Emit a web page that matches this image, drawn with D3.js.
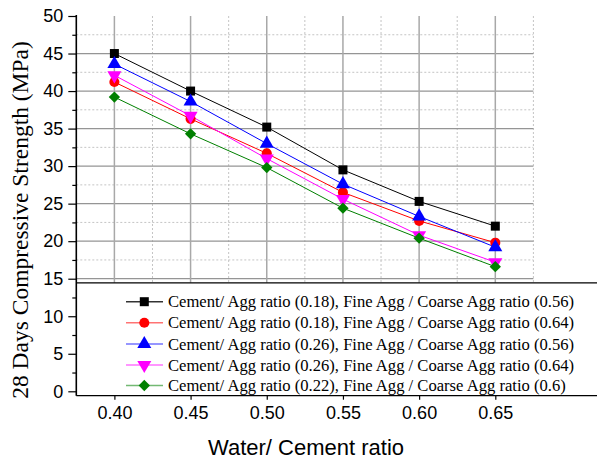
<!DOCTYPE html>
<html><head><meta charset="utf-8">
<script src="https://cdn.jsdelivr.net/npm/d3@7"></script>
<style>body{margin:0;background:#fff}</style>
</head><body>
<svg id="c" width="597" height="462"></svg>
<script>
const wcRatio = [0.40, 0.45, 0.50, 0.55, 0.60, 0.65];
const s1 = [45.0, 40.0, 35.2, 29.5, 25.3, 22.0];
const s2 = [41.2, 36.3, 31.7, 26.5, 22.7, 19.8];
const s3 = [43.6, 38.6, 33.0, 27.6, 23.3, 19.2];
const s4 = [42.1, 36.7, 31.0, 25.6, 20.8, 17.2];
const s5 = [39.2, 34.3, 29.8, 24.4, 20.4, 16.6];
const seriesNames = [
  "Cement/ Agg ratio (0.18), Fine Agg / Coarse Agg ratio (0.56)",
  "Cement/ Agg ratio (0.18), Fine Agg / Coarse Agg ratio (0.64)",
  "Cement/ Agg ratio (0.26), Fine Agg / Coarse Agg ratio (0.56)",
  "Cement/ Agg ratio (0.26), Fine Agg / Coarse Agg ratio (0.64)",
  "Cement/ Agg ratio (0.22), Fine Agg / Coarse Agg ratio (0.6)"
];
const yTicks = [0, 5, 10, 15, 20, 25, 30, 35, 40, 45, 50];
const xTicks = [0.40, 0.45, 0.50, 0.55, 0.60, 0.65];

const colors = ["#000000", "#ff0000", "#0000ff", "#ff00ff", "#008000"];
const shapes = ["square", "circle", "triUp", "triDown", "diamond"];
const allSeries = [s1, s2, s3, s4, s5];

const svg = d3.select("#c");
const x = d3.scaleLinear().domain([0.375, 0.675]).range([76.3, 533.4]);
const y = d3.scaleLinear().domain([0, 50]).range([391.3, 16]);
const panelBottomVal = 14.45;
const axisBottomY = 395.7;

// grid (upper panel)
const g = svg.append("g");
const majorY = yTicks.filter(v => v >= 15 && v < 50);
const minorY = d3.range(17.5, 50, 5);
g.selectAll(".mny").data(minorY).enter().append("line")
  .attr("x1", x(0.375)).attr("x2", x(0.675))
  .attr("y1", d => y(d)).attr("y2", d => y(d))
  .attr("stroke", "#c4c4c4").attr("stroke-width", 1).attr("stroke-dasharray", "2,2");
const minorX = d3.range(0.425, 0.676, 0.05);
g.selectAll(".mnx").data(minorX).enter().append("line")
  .attr("x1", d => x(d)).attr("x2", d => x(d))
  .attr("y1", y(50)).attr("y2", y(panelBottomVal))
  .attr("stroke", "#c4c4c4").attr("stroke-width", 1).attr("stroke-dasharray", "2,2");
g.selectAll(".mjy").data(majorY).enter().append("line")
  .attr("x1", x(0.375)).attr("x2", x(0.675))
  .attr("y1", d => y(d)).attr("y2", d => y(d))
  .attr("stroke", "#959595").attr("stroke-width", 1.3);
g.selectAll(".mjx").data(xTicks).enter().append("line")
  .attr("x1", d => x(d)).attr("x2", d => x(d))
  .attr("y1", y(50)).attr("y2", y(panelBottomVal))
  .attr("stroke", "#a8a8a8").attr("stroke-width", 1.5);

function sym(shape, size) {
  if (shape === "square") return d3.symbol(d3.symbolSquare, size || 81)();
  if (shape === "circle") return d3.symbol(d3.symbolCircle, size || 80)();
  if (shape === "triUp" || shape === "triDown") return d3.symbol(d3.symbolTriangle, size || 85)();
  if (shape === "diamond") return d3.symbol(d3.symbolSquare, size || 64)();
}
function rot(shape) {
  if (shape === "triDown") return " rotate(180)";
  if (shape === "diamond") return " rotate(45)";
  return "";
}

// series
const line = d3.line().x(d => x(d[0])).y(d => y(d[1]));
allSeries.forEach((vals, i) => {
  const pts = wcRatio.map((w, j) => [w, vals[j]]);
  svg.append("path").attr("d", line(pts)).attr("fill", "none")
    .attr("stroke", colors[i]).attr("stroke-width", 1);
});
allSeries.forEach((vals, i) => {
  const pts = wcRatio.map((w, j) => [w, vals[j]]);
  svg.selectAll(".m" + i).data(pts).enter().append("path")
    .attr("d", sym(shapes[i]))
    .attr("transform", d => `translate(${x(d[0])},${y(d[1])})` + rot(shapes[i]))
    .attr("fill", colors[i]);
});

// legend panel
svg.append("rect").attr("x", x(0.375)).attr("y", y(panelBottomVal))
  .attr("width", 597 - x(0.375)).attr("height", axisBottomY - y(panelBottomVal))
  .attr("fill", "#fff");
svg.append("line").attr("x1", x(0.375)).attr("x2", 597)
  .attr("y1", y(panelBottomVal)).attr("y2", y(panelBottomVal))
  .attr("stroke", "#000").attr("stroke-width", 1.3);

const legRows = [301.7, 322.7, 344, 365, 385.5];
seriesNames.forEach((name, i) => {
  const ly = legRows[i];
  svg.append("line").attr("x1", 126).attr("x2", 163).attr("y1", ly).attr("y2", ly)
    .attr("stroke", colors[i]).attr("stroke-opacity", i === 0 ? 0.8 : 0.55).attr("stroke-width", 1.6);
  svg.append("path").attr("d", sym(shapes[i]))
    .attr("transform", `translate(144.3,${ly})` + rot(shapes[i]))
    .attr("fill", colors[i]);
  svg.append("text").attr("x", 168).attr("y", ly + 5.5)
    .attr("font-family", "'Liberation Serif','Times New Roman',serif")
    .attr("font-size", 16.6).attr("fill", "#000").text(name);
});

// y axis
const yAxis = d3.axisLeft(y).tickValues(yTicks).tickSize(8).tickPadding(5);
const ya = svg.append("g").attr("transform", `translate(${x(0.375)},0)`).call(yAxis);
ya.select(".domain").remove();
ya.selectAll("text").attr("font-family", "'Liberation Sans',Arial,sans-serif").attr("font-size", 18).attr("fill", "#000");
ya.selectAll("line").attr("stroke", "#000").attr("stroke-width", 1.2);
const yMinor = d3.axisLeft(y).tickValues(d3.range(2.5, 50, 5)).tickSize(4).tickFormat("");
const ym = svg.append("g").attr("transform", `translate(${x(0.375)},0)`).call(yMinor);
ym.select(".domain").remove();
ym.selectAll("line").attr("stroke", "#000").attr("stroke-width", 1.2);
svg.append("line").attr("x1", x(0.375)).attr("x2", x(0.375))
  .attr("y1", y(50) - 1).attr("y2", axisBottomY)
  .attr("stroke", "#000").attr("stroke-width", 1.6);

// x axis
const xAxis = d3.axisBottom(x).tickValues(xTicks).tickSize(4).tickPadding(7).tickFormat(d3.format(".2f"));
const xa = svg.append("g").attr("transform", `translate(0,${axisBottomY})`).call(xAxis);
xa.select(".domain").remove();
xa.selectAll("text").attr("font-family", "'Liberation Sans',Arial,sans-serif").attr("font-size", 18).attr("fill", "#000");
xa.selectAll("line").attr("stroke", "#000").attr("stroke-width", 1.2);
svg.append("line").attr("x1", x(0.375)).attr("x2", 597)
  .attr("y1", axisBottomY).attr("y2", axisBottomY)
  .attr("stroke", "#000").attr("stroke-width", 1.3);

// titles
svg.append("text").attr("x", 306).attr("y", 455).attr("text-anchor", "middle")
  .attr("font-family", "'Liberation Sans',Arial,sans-serif").attr("font-size", 22)
  .attr("fill", "#000").text("Water/ Cement ratio");
svg.append("text").attr("transform", "translate(28,220) rotate(-90)").attr("text-anchor", "middle")
  .attr("font-family", "'Liberation Serif','Times New Roman',serif").attr("font-size", 23.5)
  .attr("fill", "#000").text("28 Days Compressive Strength (MPa)");
</script>
</body></html>
